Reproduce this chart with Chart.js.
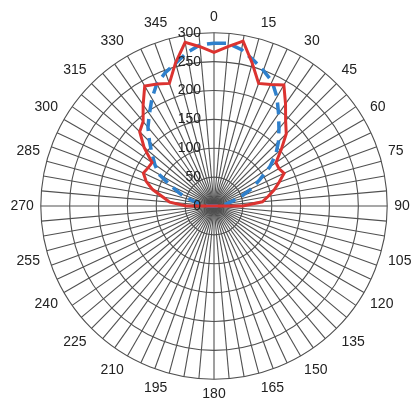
<!DOCTYPE html>
<html>
<head>
<meta charset="utf-8">
<script src="https://cdn.jsdelivr.net/npm/chart.js@4/dist/chart.umd.min.js"></script>
<style>
  html, body { margin: 0; padding: 0; background: #fff; }
  #wrap { width: 416px; height: 404px; }
</style>
</head>
<body>
<div id="wrap"><canvas id="polar-chart"></canvas></div>
<script>
// angles every 5 degrees, labelled every 15
const angles = [
  0, 5, 10, 15, 20, 25, 30, 35, 40, 45, 50, 55,
  60, 65, 70, 75, 80, 85, 90, 95, 100, 105, 110, 115,
  120, 125, 130, 135, 140, 145, 150, 155, 160, 165, 170, 175,
  180, 185, 190, 195, 200, 205, 210, 215, 220, 225, 230, 235,
  240, 245, 250, 255, 260, 265, 270, 275, 280, 285, 290, 295,
  300, 305, 310, 315, 320, 325, 330, 335, 340, 345, 350, 355
];

const radialTicks = [0, 50, 100, 150, 200, 250, 300];

// red solid curve
const redValues = [
  266, 277, 290, 256, 226, 232, 242, 216, 193, 177, 152, 131,
  130, 134, 120, 108, 95, 84, 50, 0, 0, 0, 0, 0,
  0, 0, 0, 0, 0, 0, 0, 0, 0, 0, 0, 0,
  0, 0, 0, 0, 0, 0, 0, 0, 0, 0, 0, 0,
  0, 0, 0, 0, 0, 0, 48, 77, 90, 110, 125, 135,
  132, 131, 158, 182, 191, 214, 240, 233, 226, 257, 288, 277
];

// blue dashed curve
const blueValues = [
  282, 283, 275, 262, 250, 238, 218, 195, 175, 158, 140, 118,
  92, 73, 52, 33, 22, 15, 10, 0, 0, 0, 0, 0,
  0, 0, 0, 0, 0, 0, 0, 0, 0, 0, 0, 0,
  0, 0, 0, 0, 0, 0, 0, 0, 0, 0, 0, 0,
  0, 0, 0, 0, 0, 0, 10, 18, 28, 42, 62, 82,
  110, 125, 140, 158, 178, 195, 215, 234, 246, 256, 270, 280
];

const FONT = "'Liberation Sans', Arial, sans-serif";

// radial tick labels, right aligned just left of the 0 degree spoke
const tickLabels = {
  id: "tickLabels",
  afterDatasetsDraw(chart) {
    const s = chart.scales.r;
    const ctx = chart.ctx;
    ctx.save();
    ctx.font = "14px " + FONT;
    ctx.fillStyle = "#222";
    ctx.textAlign = "right";
    ctx.textBaseline = "middle";
    radialTicks.forEach(function (v) {
      const y = s.yCenter - s.getDistanceFromCenterForValue(v);
      ctx.fillText(String(v), s.xCenter - 13, y);
    });
    ctx.restore();
  },
};

new Chart(document.getElementById("polar-chart"), {
  type: "radar",
  data: {
    labels: angles.map(String),
    datasets: [
      {
        data: redValues,
        borderColor: "#dc3330",
        borderWidth: 3,
        fill: false,
        pointRadius: 0,
        tension: 0,
      },
      {
        data: blueValues,
        borderColor: "#2f80cc",
        borderWidth: 3.5,
        borderDash: [12, 7],
        fill: false,
        pointRadius: 0,
        tension: 0,
      },
    ],
  },
  options: {
    responsive: true,
    maintainAspectRatio: false,
    animation: false,
    layout: { padding: { top: 10, bottom: -12, left: 7, right: -5 } },
    plugins: {
      legend: { display: false },
      tooltip: { enabled: false },
    },
    scales: {
      r: {
        min: 0,
        max: 300,
        ticks: { stepSize: 50, display: false },
        grid: { circular: true, color: "#505050", lineWidth: 1.1 },
        angleLines: { color: "#505050", lineWidth: 1.1 },
        pointLabels: {
          color: "#222",
          padding: 7,
          font: { size: 14, family: FONT },
          callback: function (label, i) {
            return i % 3 === 0 ? label : "";
          },
        },
      },
    },
  },
  plugins: [tickLabels],
});
</script>
</body>
</html>
